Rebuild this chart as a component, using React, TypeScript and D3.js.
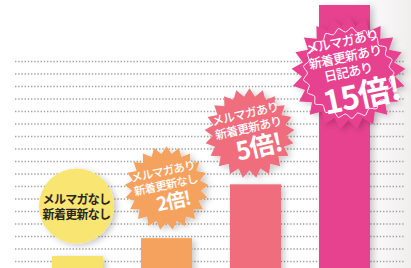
import React from 'react';
import * as d3 from 'd3';

// data
const categories = ['none', 'mail', 'mailNews', 'mailNewsDiary'];
const multipliers = [1, 2, 5, 15];
const barColors = ['#f8e36a', '#f5a25e', '#ef6d7d', '#e7428f'];
const badgeLines = [
  ['メルマガなし', '新着更新なし'],
  ['メルマガあり', '新着更新なし'],
  ['メルマガあり', '新着更新あり'],
  ['メルマガあり', '新着更新あり', '日記あり'],
];
const badgeBig = ['', '2倍!', '5倍!', '15倍!'];

const W = 411;
const H = 268;
const FONT = '"Noto Sans CJK JP", sans-serif';

// starburst polygon around 0,0
const starPath = (r: number, spikes: number, depth: number) => {
  const pts: [number, number][] = [];
  for (let i = 0; i < spikes * 2; i++) {
    const a = (i / (spikes * 2)) * Math.PI * 2 - Math.PI / 2;
    const rr = i % 2 === 0 ? r : r * depth;
    pts.push([Math.cos(a) * rr, Math.sin(a) * rr]);
  }
  return d3.line().curve(d3.curveLinearClosed)(pts) || '';
};

const scallopPath = (r: number, spikes: number) => {
  const pts: [number, number][] = [];
  for (let i = 0; i < spikes * 2; i++) {
    const a = (i / (spikes * 2)) * Math.PI * 2 - Math.PI / 2 + Math.PI / spikes / 2;
    const rr = i % 2 === 0 ? r : r * 0.9;
    pts.push([Math.cos(a) * rr, Math.sin(a) * rr]);
  }
  return d3.line().curve(d3.curveCardinalClosed.tension(0.2))(pts) || '';
};

const App: React.FC = () => {
  const x = d3.scaleBand<string>()
    .domain(categories)
    .range([52, 370])
    .paddingInner(0.427)
    .paddingOuter(0);

  const y = d3.scaleLinear()
    .domain([0, 15])
    .range([274, 5]);

  // dotted guide lines
  const gridY = d3.range(17).map(i => 61.5 + i * 12.5);

  // badge layout
  const badgeR = [37.5, 42, 45, 57];
  const badgeDx = [-1, 0, -6, 4];
  const badgeDy = [-50, -50, -51, 0];
  const badgeRot = [0, -12, -13, -12];
  const smallSize = [12, 11.5, 12, 13];
  const lineH = [15.5, 14, 14.5, 15.5];
  const bigSize = [0, 19, 25, 32];
  const bigDx = [0, 4, 6, 8];

  return (
    <svg width={W} height={H} style={{ position: 'absolute', left: 0, top: 0, background: '#fff' }}>
      <defs>
        <filter id="sh" x="-30%" y="-30%" width="160%" height="160%">
          <feDropShadow dx="3" dy="2" stdDeviation="3" floodColor="#000" floodOpacity="0.22" />
        </filter>
        <linearGradient id="bg" x1="0" x2="1" y1="0" y2="0">
          <stop offset="0.85" stopColor="#fff" />
          <stop offset="1" stopColor="#f1eeee" />
        </linearGradient>
      </defs>
      <rect width={W} height={H} fill="url(#bg)" />

      <g>
        {gridY.map((gy, i) => (
          <line key={i} x1={15} x2={405} y1={gy} y2={gy}
            stroke="#a3a3a3" strokeWidth={1.4} strokeDasharray="1.4 1.8" />
        ))}
      </g>

      <g>
        {categories.map((c, i) => (
          <rect key={c}
            x={x(c)}
            y={y(multipliers[i])}
            width={x.bandwidth()}
            height={H - y(multipliers[i]) + 10}
            fill={barColors[i]}
            filter="url(#sh)" />
        ))}
      </g>

      <g>
        {categories.map((c, i) => {
          const cx = (x(c) || 0) + x.bandwidth() / 2 + badgeDx[i];
          const cy = i === 3 ? 73 : y(multipliers[i]) + badgeDy[i];
          const r = badgeR[i];
          const lines = badgeLines[i];
          const isCircle = i === 0;
          const fs = smallSize[i];
          const lh = lineH[i];
          const big = badgeBig[i];
          const total = lines.length * lh + (big ? bigSize[i] * 0.95 : 0);
          const top = -total / 2 + (isCircle ? 0 : -2);
          return (
            <g key={c} transform={`translate(${cx},${cy})`}>
              {isCircle
                ? <circle r={r} fill="#f9e571" filter="url(#sh)" />
                : <path d={starPath(r, 21, 0.82)} fill={barColors[i]} filter="url(#sh)" />}
              {i === 3 && (
                <path d={scallopPath(r * 0.8, 21)} fill="none" stroke="#fff" strokeWidth={1} opacity={0.9} />
              )}
              <g transform={`rotate(${badgeRot[i]})`}
                fill={isCircle ? '#2b2620' : '#fff'}
                fontFamily={FONT}
                textAnchor="middle">
                {lines.map((t, k) => (
                  <text key={k} x={0} y={top + lh * (k + 0.5)} dominantBaseline="central"
                    fontSize={fs} fontWeight={isCircle ? 700 : 500} letterSpacing={-0.7}>
                    {t}
                  </text>
                ))}
                {big && (
                  <text x={bigDx[i]} y={top + lines.length * lh + bigSize[i] * 0.5} dominantBaseline="central"
                    fontSize={bigSize[i]} fontWeight={700} letterSpacing={-1}>
                    {big}
                  </text>
                )}
              </g>
            </g>
          );
        })}
      </g>
    </svg>
  );
};

export default App;
